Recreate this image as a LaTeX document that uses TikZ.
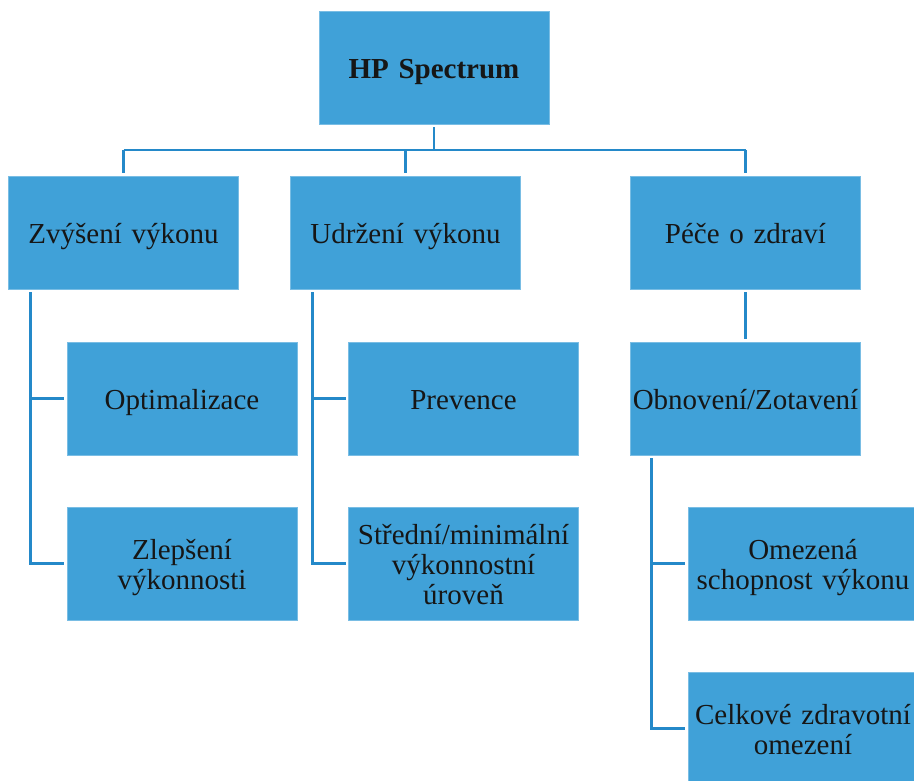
\documentclass[tikz,border=0pt]{standalone}
\usepackage{fontspec}
\setmainfont{Liberation Serif}
\definecolor{boxblue}{RGB}{64,161,216}
\definecolor{lineblue}{RGB}{36,137,201}
\definecolor{ink}{RGB}{22,22,22}
% invisible rules that fix the height of the first line and the depth of the last
\newcommand{\topstrut}{\rule{0pt}{31pt}}
\newcommand{\botstrut}{\rule[-9pt]{0pt}{9pt}}
\tikzset{
  x=1pt, y=-1pt,
  box/.style={fill=boxblue, draw=boxblue!70!white, line width=0.6pt,
    minimum width=230pt, minimum height=113pt, inner sep=0pt,
    outer sep=3pt, text width=226pt, align=center, text=ink,
    font=\fontsize{29}{30}\selectfont,
    execute at begin node=\topstrut, execute at end node=\botstrut},
  conn/.style={draw=lineblue, line width=2.8pt}
}
\begin{document}
\begin{tikzpicture}
\path[use as bounding box] (0,0) rectangle (914,781);
\clip (0,0) rectangle (914,781);

% top level
\node[box, font=\bfseries\fontsize{29}{30}\selectfont] (hp) at (434,68) {HP Spectrum};

% second level
\node[box] (z) at (123.5,232.5) {Zvýšení výkonu};
\node[box] (u) at (405.5,232.5) {Udržení výkonu};
\node[box] (p) at (745.5,232.5) {Péče o zdraví};

% third level
\node[box] (opt)  at (182,398.5)   {Optimalizace};
\node[box] (prev) at (463.5,398.5) {Prevence};
\node[box] (obn)  at (745.5,398.5) {Obnovení/Zotavení};

% fourth level
\node[box] (zlep) at (182,563.5)   {Zlepšení\\výkonnosti};
\node[box] (str)  at (463.5,563.5) {Střední/minimální\\výkonnostní\\úroveň};
\node[box] (omez) at (803,563.5)   {Omezená\\schopnost výkonu};

% fifth level
\node[box] (celk) at (803,728.5)   {Celkové zdravotní\\omezení};

% bus under the top box
\coordinate (bus) at (434,150);
\draw[conn] (hp.south) -- (bus);
\draw[conn] (bus -| z.north) -- (bus -| p.north);
\draw[conn] (bus -| z.north) -- (z.north);
\draw[conn] (bus -| u.north) -- (u.north);
\draw[conn] (bus -| p.north) -- (p.north);

% side rails
\coordinate (zr) at ([xshift=25pt]z.south west);
\draw[conn] (zr) |- (zlep.west);
\draw[conn] (zr |- opt.west) -- (opt.west);

\coordinate (ur) at ([xshift=25pt]u.south west);
\draw[conn] (ur) |- (str.west);
\draw[conn] (ur |- prev.west) -- (prev.west);

\draw[conn] (p.south) -- (obn.north);

\coordinate (or) at ([xshift=24pt]obn.south west);
\draw[conn] (or) |- (celk.west);
\draw[conn] (or |- omez.west) -- (omez.west);
\end{tikzpicture}
\end{document}
